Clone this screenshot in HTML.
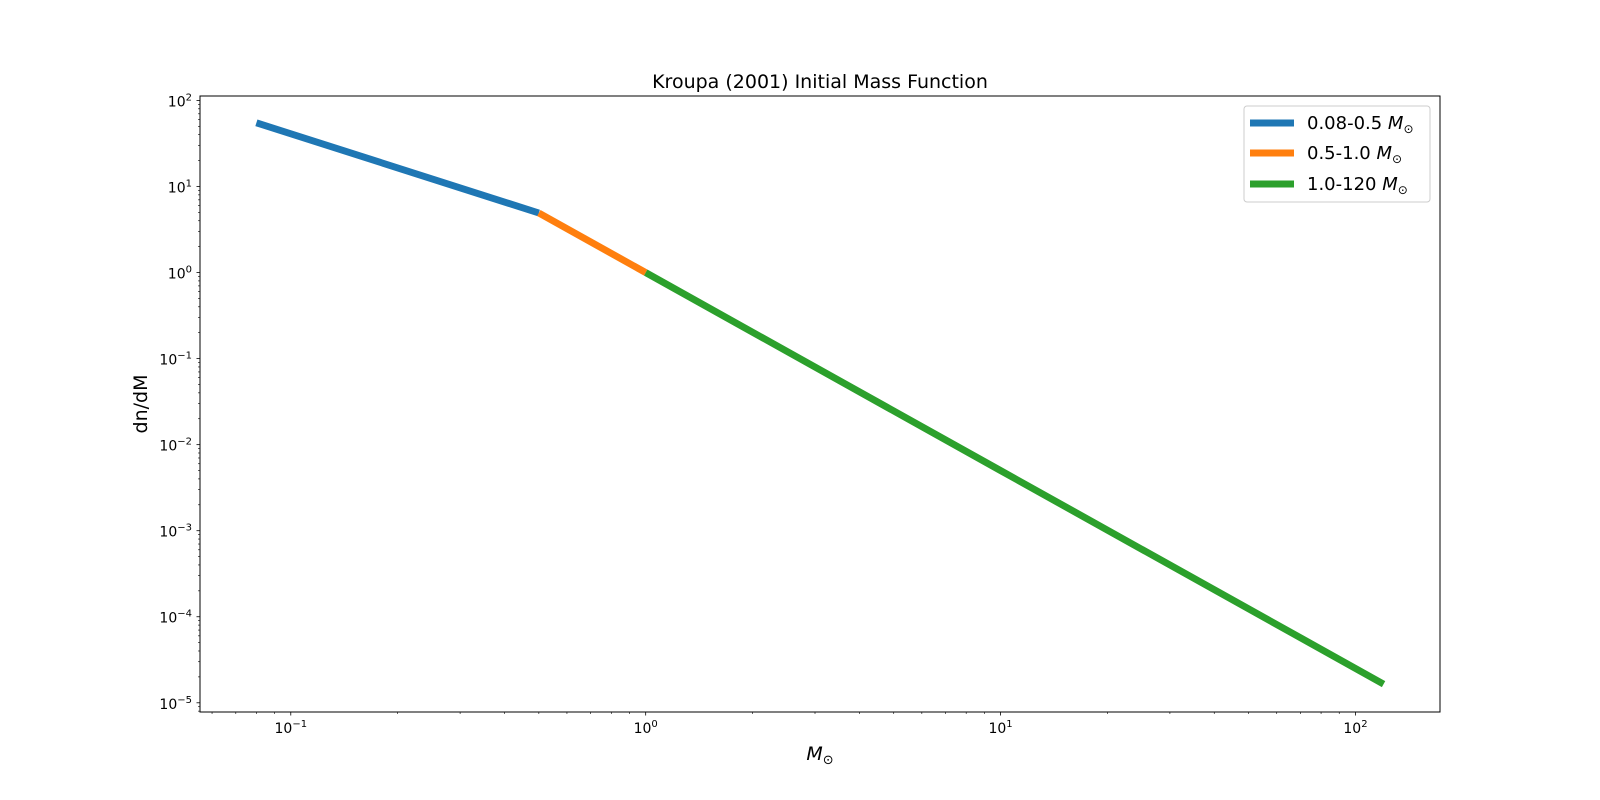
<!DOCTYPE html>
<html><head><meta charset="utf-8"><style>
html,body{margin:0;padding:0;background:#fff}
svg{display:block;font-family:"DejaVu Sans","Liberation Sans",sans-serif}
</style></head><body>
<svg id="chart" width="1600" height="800" viewBox="0 0 1600 800" xmlns="http://www.w3.org/2000/svg">
<rect width="1600" height="800" fill="#fff"/>
<text x="820" y="88" font-size="19" text-anchor="middle">Kroupa (2001) Initial Mass Function</text>
<g id="ticks"></g>
<g id="series"></g>
<rect x="200" y="96" width="1240" height="616" fill="none" stroke="#000" stroke-width="1"/>
<text x="820" y="760" font-size="19" text-anchor="middle" font-style="italic">M<tspan font-style="normal" font-size="13" dy="4">⊙</tspan></text>
<text transform="translate(147,404) rotate(-90)" font-size="19" text-anchor="middle">dn/dM</text>
<g>
<rect x="1244" y="106" width="186" height="96" rx="3" fill="#fff" stroke="#ccc" stroke-width="1"/>
<line x1="1250" y1="123" x2="1294" y2="123" stroke="#1f77b4" stroke-width="6.9"/>
<text x="1307" y="129" font-size="18">0.08-0.5 <tspan font-style="italic">M</tspan><tspan font-size="12" dy="4">⊙</tspan></text>
<line x1="1250" y1="153" x2="1294" y2="153" stroke="#ff7f0e" stroke-width="6.9"/>
<text x="1307" y="159" font-size="18">0.5-1.0 <tspan font-style="italic">M</tspan><tspan font-size="12" dy="4">⊙</tspan></text>
<line x1="1250" y1="184" x2="1294" y2="184" stroke="#2ca02c" stroke-width="6.9"/>
<text x="1307" y="190" font-size="18">1.0-120 <tspan font-style="italic">M</tspan><tspan font-size="12" dy="4">⊙</tspan></text>
</g>
</svg>
<script>
const lowMass = [0.08, 0.5];
const lowVals = [55, 4.925];
const midMass = [0.5, 1.0];
const midVals = [4.925, 1.0];
const highMass = [1.0, 10, 120];
const highVals = [1.0, 0.005, 1.65e-5];
const xTickExps = [-1, 0, 1, 2];
const yTickExps = [-5, -4, -3, -2, -1, 0, 1, 2];
const colors = ['#1f77b4', '#ff7f0e', '#2ca02c'];

const NS = 'http://www.w3.org/2000/svg';
const L = 200, R = 1440, T = 96, B = 712;
const xMin = -1.2558, xMax = 2.2382, yMin = -5.107, yMax = 2.052;
function xs(v){ return L + (Math.log10(v) - xMin) / (xMax - xMin) * (R - L); }
function ys(v){ return B - (Math.log10(v) - yMin) / (yMax - yMin) * (B - T); }
function mk(tag, attrs){ const e = document.createElementNS(NS, tag); for (const k in attrs) e.setAttribute(k, attrs[k]); return e; }

const tg = document.getElementById('ticks');
for (let d = -2; d <= 2; d++) {
  for (let m = 1; m <= 9; m++) {
    const v = m * Math.pow(10, d), x = xs(v);
    if (x < L - 0.5 || x > R + 0.5) continue;
    const t = mk('line', {x1: x, y1: B, x2: x, y2: B + (m === 1 ? 3.5 : 2), stroke: '#000', 'stroke-width': m === 1 ? 0.8 : 0.6});
    
    
    tg.appendChild(t);
  }
}
for (let d = -6; d <= 2; d++) {
  for (let m = 1; m <= 9; m++) {
    const v = m * Math.pow(10, d), y = ys(v);
    if (y < T - 0.5 || y > B + 0.5) continue;
    const t = mk('line', {x1: L, y1: y, x2: L - (m === 1 ? 3.5 : 2), y2: y, stroke: '#000', 'stroke-width': m === 1 ? 0.8 : 0.6});
    
    
    tg.appendChild(t);
  }
}
xTickExps.forEach(e => {
  const t = mk('text', {x: xs(Math.pow(10, e)), y: B + 21, 'font-size': 14, 'text-anchor': 'middle'});
  
  
  t.innerHTML = '10<tspan dy="-6" font-size="10">' + (e < 0 ? '−' + (-e) : e) + '</tspan>';
  tg.appendChild(t);
});
yTickExps.forEach(e => {
  const t = mk('text', {x: L - 8, y: ys(Math.pow(10, e)) + 6, 'font-size': 14, 'text-anchor': 'end'});
  
  
  t.innerHTML = '10<tspan dy="-6" font-size="10">' + (e < 0 ? '−' + (-e) : e) + '</tspan>';
  tg.appendChild(t);
});

const sg = document.getElementById('series');
[[lowMass, lowVals, 'series-low-mass'], [midMass, midVals, 'series-mid-mass'], [highMass, highVals, 'series-high-mass']].forEach((s, i) => {
  const pts = s[0].map((m, j) => xs(m).toFixed(2) + ',' + ys(s[1][j]).toFixed(2)).join(' ');
  const p = mk('polyline', {points: pts, fill: 'none', stroke: colors[i], 'stroke-width': 6.9});
  
  
  sg.appendChild(p);
});
</script>
</body></html>
